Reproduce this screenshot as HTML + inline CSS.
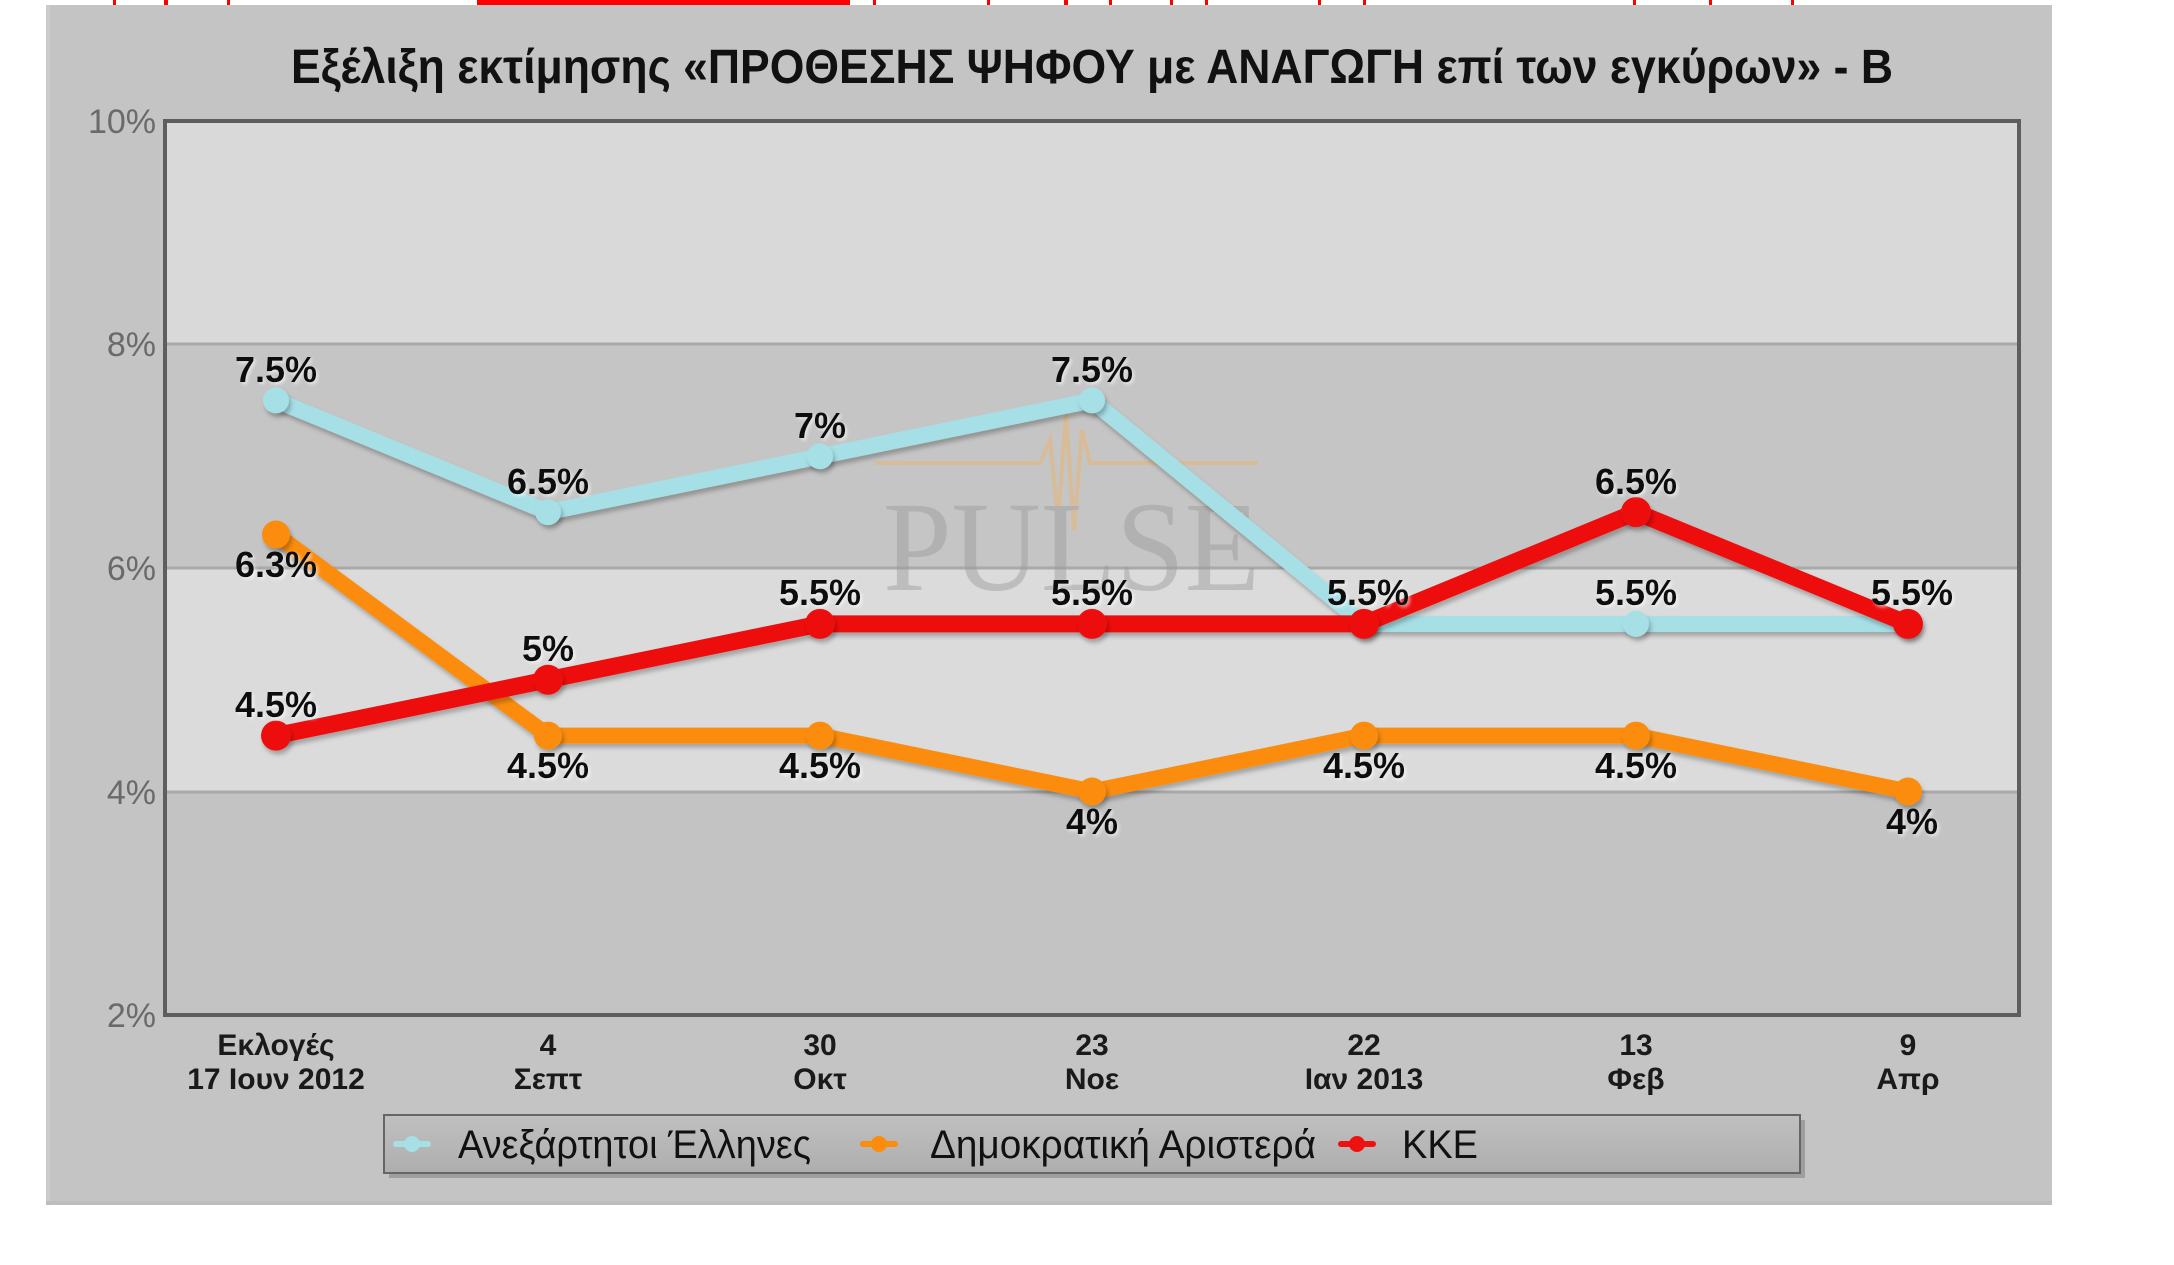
<!DOCTYPE html>
<html><head><meta charset="utf-8">
<style>
html,body{margin:0;padding:0;background:#fff;}
svg{display:block;}
</style></head>
<body>
<svg width="2174" height="1265" viewBox="0 0 2174 1265" xmlns="http://www.w3.org/2000/svg" font-family="Liberation Sans, DejaVu Sans, sans-serif">
<defs>
  <filter id="sh" x="-5%" y="-5%" width="110%" height="120%">
    <feDropShadow dx="2" dy="4" stdDeviation="2" flood-color="#000" flood-opacity="0.25"/>
  </filter>
  <filter id="tsh" x="-10%" y="-20%" width="120%" height="150%">
    <feDropShadow dx="2" dy="2" stdDeviation="1.5" flood-color="#fff" flood-opacity="0.6"/>
  </filter>
  <linearGradient id="lg" x1="0" y1="0" x2="0" y2="1">
    <stop offset="0" stop-color="#c0c0c0"/>
    <stop offset="1" stop-color="#aeaeae"/>
  </linearGradient>
</defs>

<rect x="0" y="0" width="2174" height="1265" fill="#ffffff"/>

<rect x="477" y="0" width="373" height="6" fill="#ff0000"/>
<g fill="#ff0000">
  <rect x="113" y="0" width="3" height="5"/>
  <rect x="164" y="0" width="4" height="5"/>
  <rect x="227" y="0" width="3" height="5"/>
  <rect x="873" y="0" width="3" height="5"/>
  <rect x="987" y="0" width="3" height="5"/>
  <rect x="1064" y="0" width="4" height="5"/>
  <rect x="1109" y="0" width="3" height="5"/>
  <rect x="1170" y="0" width="3" height="5"/>
  <rect x="1205" y="0" width="3" height="5"/>
  <rect x="1318" y="0" width="3" height="5"/>
  <rect x="1363" y="0" width="3" height="5"/>
  <rect x="1633" y="0" width="3" height="5"/>
  <rect x="1709" y="0" width="3" height="5"/>
  <rect x="1791" y="0" width="3" height="5"/>
</g>

<rect x="46" y="5" width="2006" height="1200" fill="#c4c4c4"/>
<rect x="46" y="5" width="4" height="1200" fill="#cbcbcb"/>
<rect x="46" y="1201" width="2006" height="4" fill="#bdbdbd"/>

<text x="291" y="83" font-size="48" font-weight="bold" fill="#111" textLength="1602" lengthAdjust="spacingAndGlyphs">Εξέλιξη εκτίμησης «ΠΡΟΘΕΣΗΣ ΨΗΦΟΥ με ΑΝΑΓΩΓΗ επί των εγκύρων» - Β</text>

<rect x="165" y="121" width="1854" height="223" fill="#d9d9d9"/>
<rect x="165" y="344" width="1854" height="224" fill="#c5c5c5"/>
<rect x="165" y="568" width="1854" height="224" fill="#dbdbdb"/>
<rect x="165" y="792" width="1854" height="223" fill="#c3c3c3"/>
<g stroke="#a9a9a9" stroke-width="3">
  <line x1="165" y1="344" x2="2019" y2="344"/>
  <line x1="165" y1="568" x2="2019" y2="568"/>
  <line x1="165" y1="792" x2="2019" y2="792"/>
</g>

<g opacity="0.45">
  <polyline points="875,463 1040,463 1050,440 1058,520 1066,413 1074,530 1082,430 1090,463 1258,463" fill="none" stroke="#f0b060" stroke-width="4"/>
  <text x="883" y="590" style="font-family:'Liberation Serif','DejaVu Serif',serif" font-size="128" fill="#9a9a9a" textLength="377" lengthAdjust="spacingAndGlyphs">PULSE</text>
</g>

<rect x="165" y="121" width="1854" height="894" fill="none" stroke="#5e5e5e" stroke-width="4"/>

<g font-size="34" fill="#6a6a6a" text-anchor="end">
  <text x="156" y="133">10%</text>
  <text x="156" y="356">8%</text>
  <text x="156" y="580">6%</text>
  <text x="156" y="804">4%</text>
  <text x="156" y="1027">2%</text>
</g>

<g fill="none" stroke-width="16" stroke-linejoin="round" stroke-linecap="round" filter="url(#sh)">
  <polyline stroke="#a6dfe6" points="276,400.4 548,512.1 820,456.3 1092,400.4 1364,623.9 1636,623.9 1908,623.9"/>
</g>
<g fill="#a6dfe6" filter="url(#sh)">
  <circle cx="276" cy="400.4" r="13"/><circle cx="548" cy="512.1" r="13"/><circle cx="820" cy="456.3" r="13"/>
  <circle cx="1092" cy="400.4" r="13"/><circle cx="1364" cy="623.9" r="13"/><circle cx="1636" cy="623.9" r="13"/><circle cx="1908" cy="623.9" r="13"/>
</g>
<g fill="none" stroke-width="16" stroke-linejoin="round" stroke-linecap="round" filter="url(#sh)">
  <polyline stroke="#fb8c0c" points="276,534.5 548,735.6 820,735.6 1092,791.5 1364,735.6 1636,735.6 1908,791.5"/>
</g>
<g fill="#fb8c0c" filter="url(#sh)">
  <circle cx="276" cy="534.5" r="14"/><circle cx="548" cy="735.6" r="14"/><circle cx="820" cy="735.6" r="14"/>
  <circle cx="1092" cy="791.5" r="14"/><circle cx="1364" cy="735.6" r="14"/><circle cx="1636" cy="735.6" r="14"/><circle cx="1908" cy="791.5" r="14"/>
</g>
<g fill="none" stroke-width="17" stroke-linejoin="round" stroke-linecap="round" filter="url(#sh)">
  <polyline stroke="#ee1111" points="276,735.6 548,679.75 820,623.9 1092,623.9 1364,623.9 1636,512.1 1908,623.9"/>
</g>
<g fill="#ee1111" filter="url(#sh)">
  <circle cx="276" cy="735.6" r="15"/><circle cx="548" cy="679.75" r="15"/><circle cx="820" cy="623.9" r="15"/>
  <circle cx="1092" cy="623.9" r="15"/><circle cx="1364" cy="623.9" r="15"/><circle cx="1636" cy="512.1" r="15"/><circle cx="1908" cy="623.9" r="15"/>
</g>

<g font-size="36" font-weight="bold" fill="#111" text-anchor="middle" filter="url(#tsh)">
  <text x="276" y="382">7.5%</text>
  <text x="548" y="494">6.5%</text>
  <text x="820" y="438">7%</text>
  <text x="1092" y="382">7.5%</text>
  <text x="1636" y="605">5.5%</text>
  <text x="276" y="577">6.3%</text>
  <text x="548" y="778">4.5%</text>
  <text x="820" y="778">4.5%</text>
  <text x="1092" y="834">4%</text>
  <text x="1364" y="778">4.5%</text>
  <text x="1636" y="778">4.5%</text>
  <text x="1912" y="834">4%</text>
  <text x="276" y="717">4.5%</text>
  <text x="548" y="661">5%</text>
  <text x="820" y="605">5.5%</text>
  <text x="1092" y="605">5.5%</text>
  <text x="1368" y="605">5.5%</text>
  <text x="1636" y="494">6.5%</text>
  <text x="1912" y="605">5.5%</text>
</g>

<g font-size="30" font-weight="bold" fill="#1a1a1a" text-anchor="middle">
  <text x="276" y="1055">Εκλογές</text><text x="276" y="1089">17 Ιουν 2012</text>
  <text x="548" y="1055">4</text><text x="548" y="1089">Σεπτ</text>
  <text x="820" y="1055">30</text><text x="820" y="1089">Οκτ</text>
  <text x="1092" y="1055">23</text><text x="1092" y="1089">Νοε</text>
  <text x="1364" y="1055">22</text><text x="1364" y="1089">Ιαν 2013</text>
  <text x="1636" y="1055">13</text><text x="1636" y="1089">Φεβ</text>
  <text x="1908" y="1055">9</text><text x="1908" y="1089">Απρ</text>
</g>

<rect x="389" y="1120" width="1416" height="58" fill="#777" opacity="0.5"/>
<rect x="384" y="1115" width="1416" height="58" fill="url(#lg)" stroke="#666" stroke-width="2"/>
<g stroke-width="6" stroke-linecap="round">
  <line x1="396" y1="1144" x2="428" y2="1144" stroke="#a6dfe6"/>
  <line x1="863" y1="1144" x2="895" y2="1144" stroke="#fb8c0c"/>
  <line x1="1341" y1="1144" x2="1373" y2="1144" stroke="#ee1111"/>
</g>
<circle cx="412" cy="1144" r="8" fill="#a6dfe6"/>
<circle cx="879" cy="1144" r="8" fill="#fb8c0c"/>
<circle cx="1357" cy="1144" r="8" fill="#ee1111"/>
<g font-size="40" fill="#111">
  <text x="458" y="1158" textLength="353" lengthAdjust="spacingAndGlyphs">Ανεξάρτητοι Έλληνες</text>
  <text x="930" y="1158" textLength="386" lengthAdjust="spacingAndGlyphs">Δημοκρατική Αριστερά</text>
  <text x="1402" y="1158" textLength="76" lengthAdjust="spacingAndGlyphs">ΚΚΕ</text>
</g>
</svg>
</body></html>
